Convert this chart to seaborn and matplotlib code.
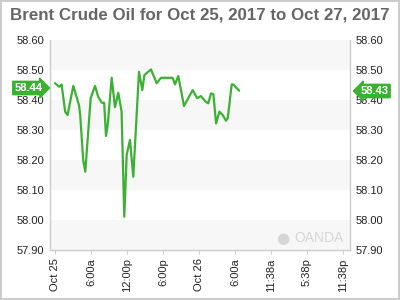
import matplotlib
matplotlib.use("Agg")
import matplotlib.pyplot as plt
import matplotlib.transforms as mtransforms
import seaborn as sns
import pandas as pd

# hours since Oct 25, 2017 00:00
hours = [0.0, 0.7, 1.1, 1.7, 2.1, 3.05, 4.0, 4.2, 4.7, 5.05, 5.95, 6.67, 7.2, 7.8,
         8.2, 8.5, 8.8, 9.45, 10.0, 10.55, 11.1, 11.55, 11.95, 12.5, 13.05, 14.0,
         14.55, 14.9, 16.0, 16.95, 17.67, 19.6, 20.0, 20.55, 21.5, 22.05, 22.95,
         23.7, 24.3, 25.15, 25.55, 26.0, 26.4, 26.85, 27.4, 27.95, 28.5, 28.8,
         29.45, 29.7, 30.7]
prices = [58.456, 58.444, 58.452, 58.361, 58.350, 58.447, 58.383, 58.350, 58.200,
          58.161, 58.406, 58.447, 58.411, 58.391, 58.390, 58.280, 58.320, 58.474,
          58.376, 58.424, 58.361, 58.011, 58.217, 58.267, 58.144, 58.494, 58.433,
          58.483, 58.502, 58.456, 58.474, 58.474, 58.452, 58.480, 58.380, 58.400,
          58.433, 58.406, 58.413, 58.394, 58.389, 58.422, 58.419, 58.322, 58.361,
          58.350, 58.331, 58.340, 58.452, 58.452, 58.431]

tick_hours = [0, 6, 12, 18, 24, 30, 36, 42, 48]
tick_labels = ["Oct 25", "6:00a", "12:00p", "6:00p", "Oct 26", "6:00a",
               "11:38a", "5:38p", "11:38p"]
y_ticks = [57.90, 58.00, 58.10, 58.20, 58.30, 58.40, 58.50, 58.60]

open_label = 58.44
last_label = 58.43
title = "Brent Crude Oil for Oct 25, 2017 to Oct 27, 2017"

sns.set_style("white")
plt.rcParams['font.family'] = ['Liberation Sans', 'DejaVu Sans']

fig = plt.figure(figsize=(4, 3), dpi=100)
fig.patch.set_facecolor("white")
fig.patch.set_edgecolor("#cccccc")
fig.patch.set_linewidth(1.5)
ax = fig.add_axes([0.125, 1 - 250 / 300, 0.75, 210 / 300])

# alternating bands
for i in range(len(y_ticks) - 1):
    if i % 2 == 0:
        ax.axhspan(y_ticks[i], y_ticks[i + 1], color="#f7f7f7", zorder=0, lw=0)

df = pd.DataFrame({"hours": hours, "price": prices})
sns.lineplot(data=df, x="hours", y="price", ax=ax, color="#3cb034", linewidth=1.6, zorder=3)

ax.set_xlim(-0.83, 49.17)
ax.set_ylim(57.90, 58.60)
ax.set_xlabel("")
ax.set_ylabel("")
ax.set_xticks(tick_hours)
ax.set_xticklabels(tick_labels, rotation=90, fontsize=8, color="#222222")
ax.set_yticks(y_ticks)
ax.set_yticklabels([f"{v:.2f}" for v in y_ticks], fontsize=8, color="#222222")
ax.tick_params(axis="y", length=0, pad=4, labelright=True, right=False)
ax.tick_params(axis="x", length=3, color="#cccccc", pad=3, bottom=True)

for s in ["left", "right", "bottom"]:
    ax.spines[s].set_color("#cccccc")
    ax.spines[s].set_linewidth(1)
ax.spines["top"].set_visible(False)

fig.suptitle(title, x=0.5, y=0.975, fontsize=12.2, fontweight="bold", color="#666666")

blend = mtransforms.blended_transform_factory(ax.transAxes, ax.transData)
ax.text(-0.025, open_label, f"{open_label:.2f}", transform=blend, ha="right", va="center",
        fontsize=8, fontweight="bold", color="white", zorder=5,
        bbox=dict(boxstyle="rarrow,pad=0.15", fc="#3cb034", ec="#3cb034"), clip_on=False)
ax.text(1.035, last_label, f"{last_label:.2f}", transform=blend, ha="left", va="center",
        fontsize=8, fontweight="bold", color="white", zorder=5,
        bbox=dict(boxstyle="larrow,pad=0.15", fc="#3cb034", ec="#3cb034"), clip_on=False)

# watermark
ax.text(0.775, 0.057, "●", transform=ax.transAxes, ha="center", va="center",
        fontsize=11, color="#d6d6d6", zorder=2, family="DejaVu Sans")
ax.text(0.98, 0.057, "OANDA", transform=ax.transAxes, ha="right", va="center",
        fontsize=10, color="#d6d6d6", zorder=2)

fig.savefig("out.png", dpi=100)
